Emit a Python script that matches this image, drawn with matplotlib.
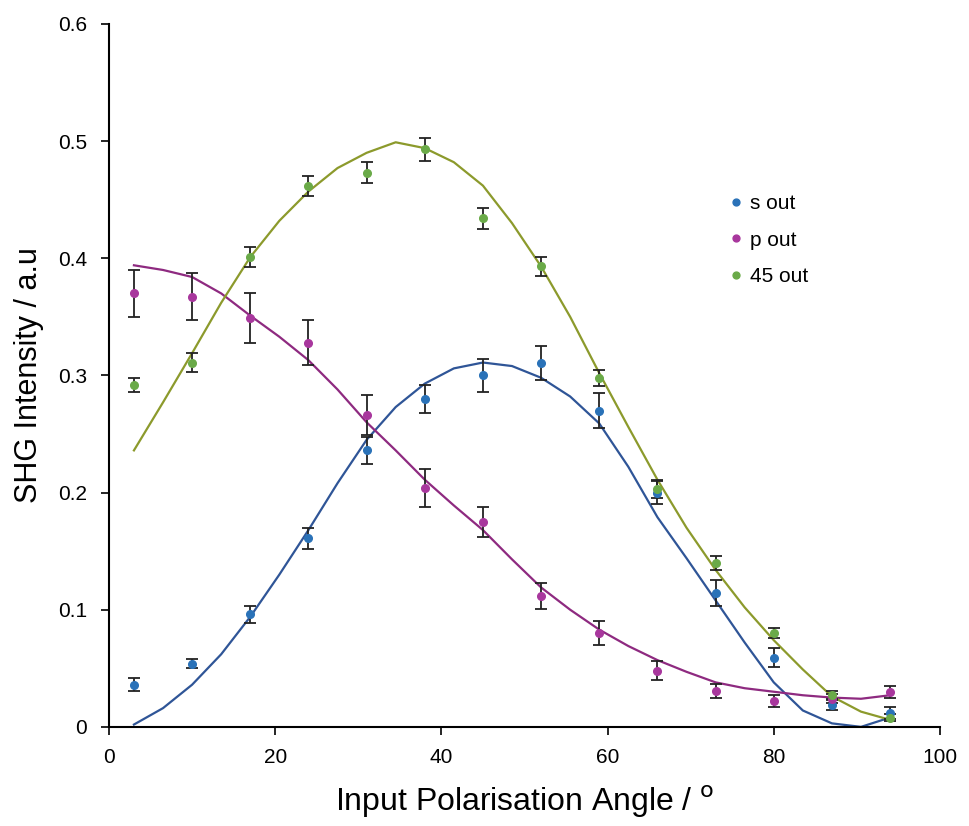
import matplotlib
matplotlib.use('Agg')
import matplotlib.pyplot as plt

# measured points (input angle in degrees)
angles = [3, 10, 17, 24, 31, 38, 45, 52, 59, 66, 73, 80, 87, 94]

s_out = [0.036, 0.054, 0.096, 0.161, 0.236, 0.280, 0.300, 0.311, 0.270, 0.200, 0.114, 0.059, 0.019, 0.012]
s_err = [0.0055, 0.004, 0.007, 0.009, 0.0115, 0.012, 0.014, 0.0145, 0.0147, 0.010, 0.011, 0.008, 0.005, 0.005]

p_out = [0.370, 0.367, 0.349, 0.328, 0.266, 0.204, 0.175, 0.112, 0.080, 0.048, 0.031, 0.022, 0.024, 0.030]
p_err = [0.020, 0.020, 0.021, 0.019, 0.017, 0.016, 0.013, 0.011, 0.010, 0.008, 0.006, 0.005, 0.004, 0.005]

d45_out = [0.292, 0.311, 0.401, 0.462, 0.473, 0.493, 0.434, 0.393, 0.298, 0.203, 0.140, 0.080, 0.027, 0.008]
d45_err = [0.006, 0.008, 0.0085, 0.0085, 0.009, 0.0097, 0.009, 0.0085, 0.007, 0.008, 0.006, 0.004, 0.004, 0.003]

# fitted curves
fit_x = [3, 6.5, 10, 13.5, 17, 20.5, 24, 27.5, 31, 34.5, 38, 41.5, 45, 48.5, 52,
         55.5, 59, 62.5, 66, 69.5, 73, 76.5, 80, 83.5, 87, 90.5, 94]
s_fit = [0.002, 0.016, 0.036, 0.062, 0.094, 0.130, 0.168, 0.208, 0.245, 0.273, 0.293, 0.306, 0.311, 0.308, 0.298,
         0.282, 0.259, 0.222, 0.179, 0.144, 0.108, 0.072, 0.038, 0.014, 0.003, 0.000, 0.008]
p_fit = [0.394, 0.390, 0.384, 0.370, 0.351, 0.333, 0.313, 0.288, 0.260, 0.236, 0.211, 0.189, 0.168, 0.143, 0.119,
         0.100, 0.083, 0.069, 0.057, 0.047, 0.038, 0.033, 0.030, 0.027, 0.025, 0.024, 0.027]
d45_fit = [0.236, 0.277, 0.319, 0.362, 0.401, 0.432, 0.457, 0.477, 0.490, 0.499, 0.494, 0.482, 0.462, 0.430, 0.393,
           0.350, 0.302, 0.256, 0.211, 0.170, 0.134, 0.102, 0.074, 0.049, 0.026, 0.013, 0.006]

series = [
    ('s out', s_out, s_err, s_fit, '#2a72b8', '#2f5597'),
    ('p out', p_out, p_err, p_fit, '#a8379d', '#8e2a80'),
    ('45 out', d45_out, d45_err, d45_fit, '#6aaa48', '#8c9a2c'),
]

plt.rcParams['font.family'] = ['Liberation Sans', 'DejaVu Sans']

fig = plt.figure(figsize=(9.69, 8.26), dpi=100)
ax = fig.add_axes([0.1125, 0.12, 0.8575, 0.851])

for label, y, err, fit, c_pt, c_line in series:
    ax.plot(fit_x, fit, color=c_line, linewidth=1.6, zorder=2)
for label, y, err, fit, c_pt, c_line in series:
    ax.errorbar(angles, y, yerr=err, fmt='none', ecolor='#222222',
                elinewidth=1.3, capsize=4.5, capthick=1.3, zorder=3)
    ax.plot(angles, y, 'o', color=c_pt, markersize=5.5, label=label, zorder=4)

ax.set_xlim(0, 100)
ax.set_ylim(0, 0.6)
ax.set_xticks([0, 20, 40, 60, 80, 100])
ax.set_yticks([0, 0.1, 0.2, 0.3, 0.4, 0.5, 0.6])
ax.set_yticklabels(['0', '0.1', '0.2', '0.3', '0.4', '0.5', '0.6'])

ax.spines['top'].set_visible(False)
ax.spines['right'].set_visible(False)
ax.spines['left'].set_linewidth(1.5)
ax.spines['bottom'].set_linewidth(1.5)
ax.tick_params(axis='both', direction='out', length=6, width=1.2, labelsize=15)
ax.tick_params(axis='y', pad=10)
ax.tick_params(axis='x', pad=9)

ax.set_xlabel('Input Polarisation Angle / $^{\\mathrm{o}}$', fontsize=23, labelpad=12)
ax.set_ylabel('SHG Intensity / a.u', fontsize=22, labelpad=10)

ax.legend(loc='upper left', bbox_to_anchor=(0.730, 0.770), frameon=False, fontsize=15,
          handletextpad=0.05, labelspacing=0.85, markerscale=0.9, handlelength=1.2,
          borderaxespad=0.0)

fig.savefig('out.png', dpi=100)
